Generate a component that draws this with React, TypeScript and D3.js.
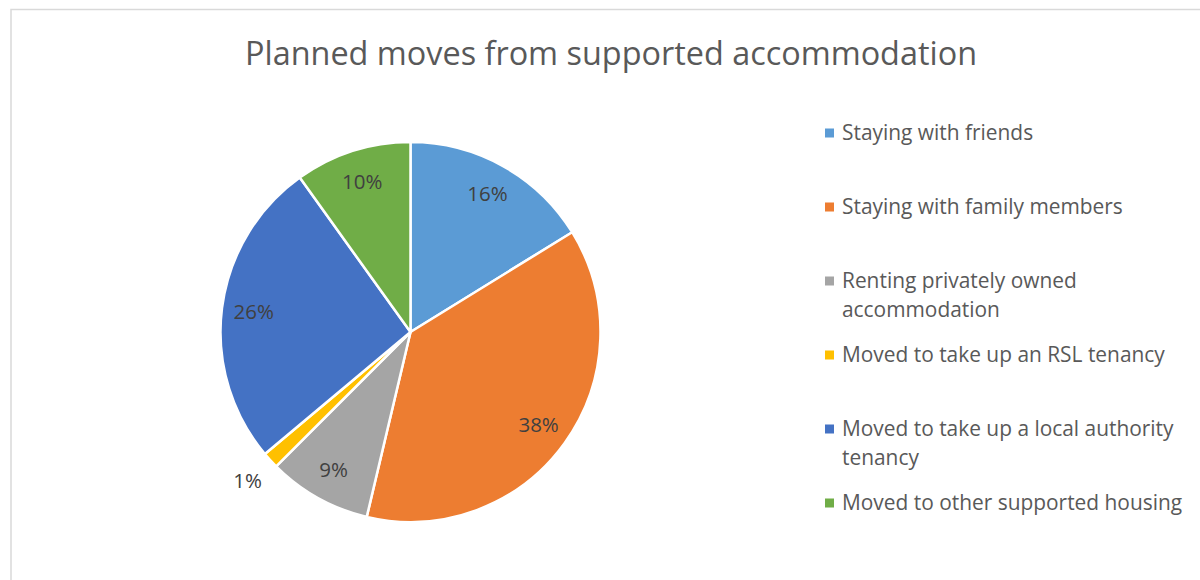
import React from "react";
import * as d3 from "d3";

const title = "Planned moves from supported accommodation";
const categories = [
  "Staying with friends",
  "Staying with family members",
  "Renting privately owned accommodation",
  "Moved to take up an RSL tenancy",
  "Moved to take up a local authority tenancy",
  "Moved to other supported housing",
];
const values = [16.2, 37.5, 8.8, 1.4, 26.2, 9.9];
const colors = ["#5B9BD5", "#ED7D31", "#A5A5A5", "#FFC000", "#4472C4", "#70AD47"];

const W = 1200;
const H = 580;
const FONT = "'Open Sans', 'Liberation Sans', sans-serif";

function wrap(text: string, maxChars: number): string[] {
  const words = text.split(" ");
  const lines: string[] = [];
  let cur = "";
  for (const w of words) {
    const next = cur ? cur + " " + w : w;
    if (next.length > maxChars && cur) {
      lines.push(cur);
      cur = w;
    } else cur = next;
  }
  if (cur) lines.push(cur);
  return lines;
}

export default function App() {
  const cx = 410.5;
  const cy = 332;
  const R = 190;
  const total = d3.sum(values);
  const pie = d3
    .pie<number>()
    .sort(null)
    .value((d) => d)
    .startAngle(0)
    .endAngle(2 * Math.PI);
  const arcs = pie(values);
  const arc = d3.arc<d3.PieArcDatum<number>>().innerRadius(0).outerRadius(R);
  const labelArc = d3.arc<d3.PieArcDatum<number>>().innerRadius(158).outerRadius(158);
  const outerArc = d3.arc<d3.PieArcDatum<number>>().innerRadius(221).outerRadius(221);
  const fmt = d3.format(".0%");

  const legendX = 825;
  const legendY0 = 133;
  const legendStep = 74;
  const lineH = 29;

  return (
    <svg width={W} height={H} style={{ position: "absolute", left: 0, top: 0, background: "#fff" }}>
      <rect x={11} y={9.5} width={1220} height={600} fill="#fff" stroke="#d9d9d9" strokeWidth={1.5} />
      <text x={611} y={65} textAnchor="middle" fontFamily={FONT} fontSize={32.4} fill="#595959">
        {title}
      </text>
      <g transform={`translate(${cx},${cy})`}>
        {arcs.map((a, i) => (
          <path key={i} d={arc(a) || ""} fill={colors[i]} stroke="#fff" strokeWidth={2.5} strokeLinejoin="round" />
        ))}
        {arcs.map((a, i) => {
          const small = a.endAngle - a.startAngle < 0.15;
          const [x, y] = small ? outerArc.centroid(a) : labelArc.centroid(a);
          return (
            <text
              key={"l" + i}
              x={x}
              y={y}
              dy="0.35em"
              textAnchor="middle"
              fontFamily={FONT}
              fontSize={20.5}
              fill="#404040"
            >
              {fmt(values[i] / total)}
            </text>
          );
        })}
      </g>
      <g>
        {categories.map((c, i) => {
          const y = legendY0 + i * legendStep;
          const lines = wrap(c, 34);
          return (
            <g key={"lg" + i}>
              <rect x={legendX} y={y - 4.5} width={9} height={9} fill={colors[i]} />
              {lines.map((ln, j) => (
                <text
                  key={j}
                  x={legendX + 17}
                  y={y + j * lineH}
                  dy="0.35em"
                  fontFamily={FONT}
                  fontSize={20.9}
                  fill="#595959"
                >
                  {ln}
                </text>
              ))}
            </g>
          );
        })}
      </g>
    </svg>
  );
}
